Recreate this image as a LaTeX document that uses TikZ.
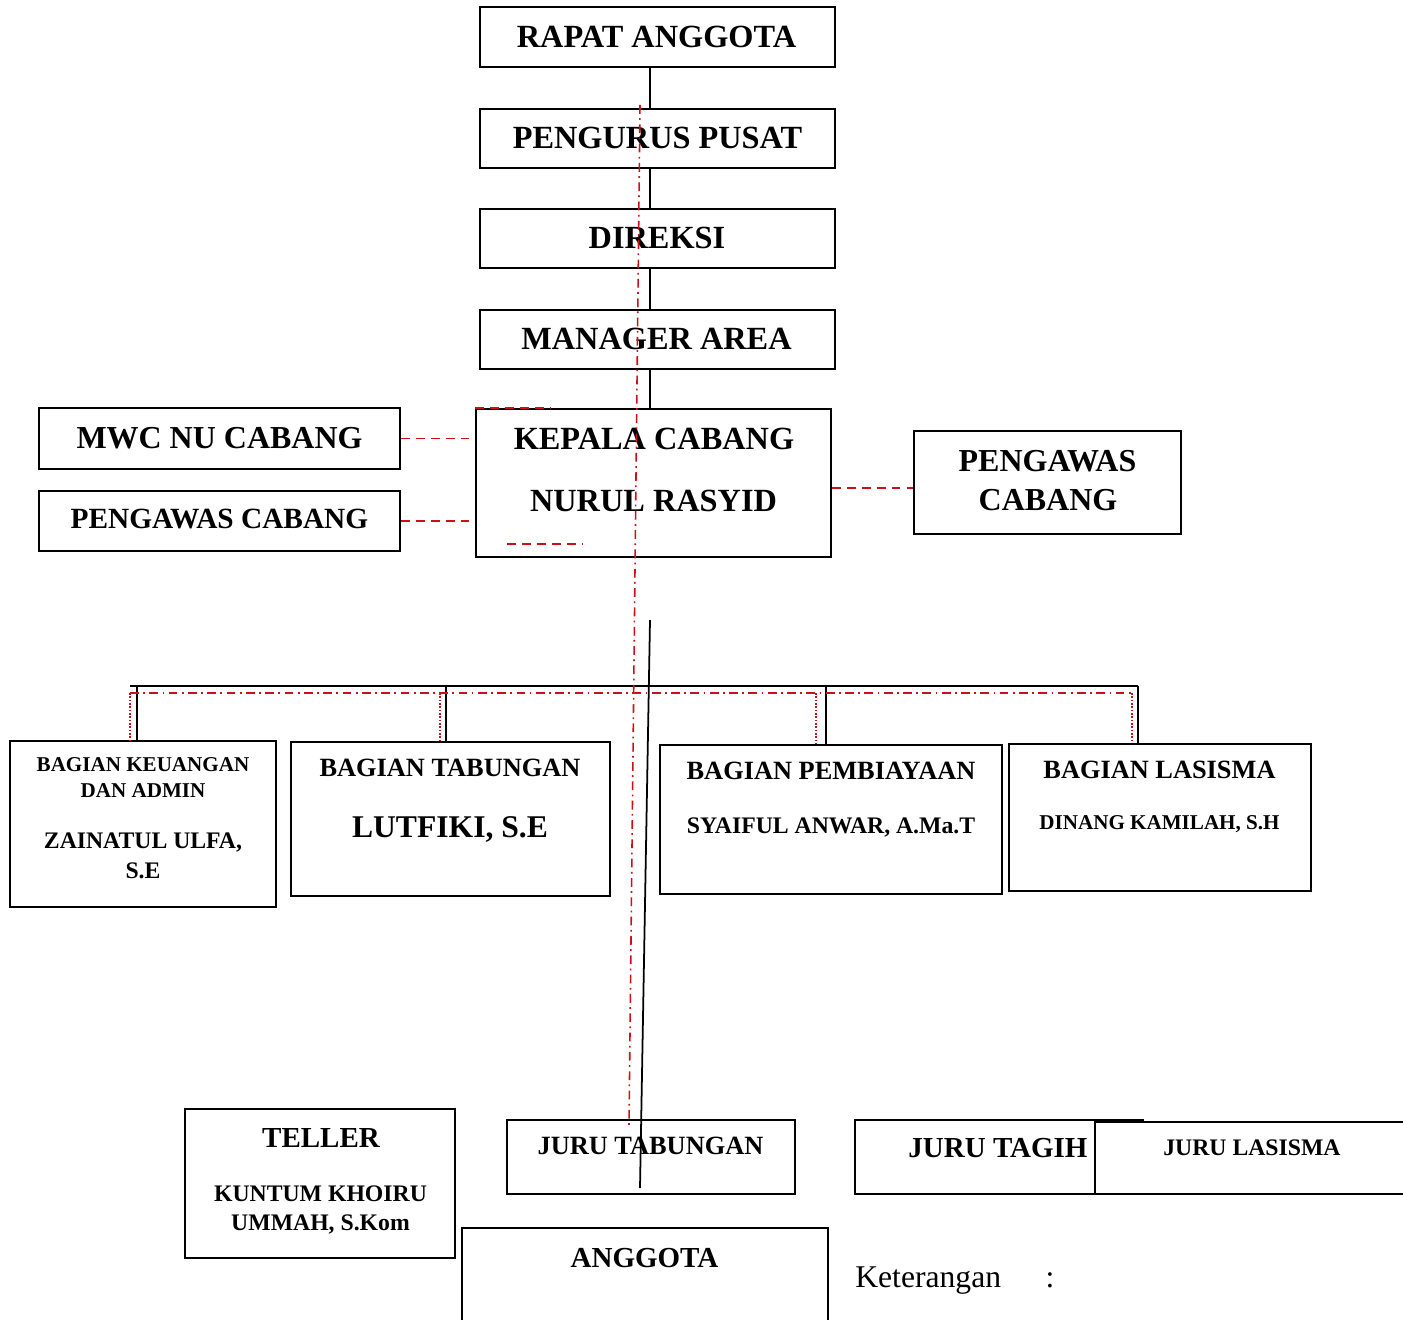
\documentclass[tikz,border=0pt]{standalone}
\usepackage{fontspec}
\setmainfont{Liberation Serif}
\definecolor{merah}{RGB}{204,16,24}

\begin{document}
\begin{tikzpicture}[x=0.02cm,y=-0.02cm]
\tikzset{kotak/.style={draw, line width=1.1pt, inner sep=0pt},
teks/.style={anchor=base, inner sep=0pt, font=\bfseries\fontsize{#1}{#1}\selectfont},
garis/.style={line width=1pt},
putus/.style={draw=merah, line width=0.9pt, dash pattern=on 5pt off 3.5pt},
titikgaris/.style={draw=merah, line width=0.9pt, dash pattern=on 5pt off 2.5pt on 1pt off 2.5pt},
titik/.style={draw=merah, line width=0.9pt, densely dotted}}
\useasboundingbox (0,0) rectangle (1403,1319);
\clip (0,0) rectangle (1403,1319);
\node[kotak, minimum width=7.1cm, minimum height=1.2cm] (rapat) at (657.5,37) {};
\node[teks=18.4] (rapatT) at (656.5,47.5) {RAPAT ANGGOTA};
\node[kotak, minimum width=7.1cm, minimum height=1.18cm] (pengurus) at (657.5,138.5) {};
\node[teks=18.4] (pengurusT) at (657.5,148.5) {PENGURUS PUSAT};
\node[kotak, minimum width=7.1cm, minimum height=1.18cm] (direksi) at (657.5,238.5) {};
\node[teks=18.4] (direksiT) at (657,248.5) {DIREKSI};
\node[kotak, minimum width=7.1cm, minimum height=1.18cm] (manager) at (657.5,339.5) {};
\node[teks=18.4] (managerT) at (656.5,349.5) {MANAGER AREA};
\node[kotak, minimum width=7.1cm, minimum height=2.96cm] (kc) at (653.5,483) {};
\node[teks=18.4] (kcT1) at (654,449.5) {KEPALA CABANG};
\node[teks=18.4] (kcT2) at (653.5,511.5) {NURUL RASYID};
\node[kotak, minimum width=7.22cm, minimum height=1.22cm] (mwc) at (219.5,438.5) {};
\node[teks=18.2] (mwcT) at (219.5,448.5) {MWC NU CABANG};
\node[kotak, minimum width=7.22cm, minimum height=1.2cm] (pwl) at (219.5,521) {};
\node[teks=16.7] (pwlT) at (219.5,528.6) {PENGAWAS CABANG};
\node[kotak, minimum width=5.34cm, minimum height=2.06cm] (pwr) at (1047.5,482.5) {};
\node[teks=18.2] (pwrT1) at (1047.5,471.5) {PENGAWAS};
\node[teks=18.2] (pwrT2) at (1048,510.5) {CABANG};
\node[kotak, minimum width=5.32cm, minimum height=3.32cm] (keu) at (143,824) {};
\node[teks=12] (keuT1) at (143,771) {BAGIAN KEUANGAN};
\node[teks=12] (keuT2) at (143,797) {DAN ADMIN};
\node[teks=13.5] (keuT3) at (143,848) {ZAINATUL ULFA,};
\node[teks=13.5] (keuT4) at (143,878) {S.E};
\node[kotak, minimum width=6.38cm, minimum height=3.08cm] (tab) at (450.5,819) {};
\node[teks=15] (tabT1) at (450,776.8) {BAGIAN TABUNGAN};
\node[teks=18] (tabT2) at (450,837.5) {LUTFIKI, S.E};
\node[kotak, minimum width=6.84cm, minimum height=2.98cm] (pem) at (831,819.5) {};
\node[teks=15] (pemT1) at (831,779.8) {BAGIAN PEMBIAYAAN};
\node[teks=13.5] (pemT2) at (831,833) {SYAIFUL ANWAR, A.Ma.T};
\node[kotak, minimum width=6.04cm, minimum height=2.94cm] (las) at (1160,817.5) {};
\node[teks=15] (lasT1) at (1159.5,778.8) {BAGIAN LASISMA};
\node[teks=12] (lasT2) at (1159.5,829) {DINANG KAMILAH, S.H};
\node[kotak, minimum width=5.4cm, minimum height=2.98cm] (tel) at (320,1183.5) {};
\node[teks=16.5] (telT1) at (321,1147.6) {TELLER};
\node[teks=13.5] (telT2) at (320.5,1201) {KUNTUM KHOIRU};
\node[teks=13.5] (telT3) at (320.5,1230) {UMMAH, S.Kom};
\node[kotak, minimum width=5.76cm, minimum height=1.48cm] (jtab) at (651,1157) {};
\node[teks=15] (jtabT) at (650.5,1154.8) {JURU TABUNGAN};
\node[kotak, minimum width=5.76cm, minimum height=1.48cm] (jtag) at (999,1157) {};
\node[teks=16.5] (jtagT) at (998,1157.6) {JURU TAGIH};
\node[kotak, fill=white, minimum width=6.3cm, minimum height=1.44cm] (jlas) at (1252.5,1158) {};
\node[teks=13.5] (jlasT) at (1252,1155) {JURU LASISMA};
\node[kotak, minimum width=7.32cm, minimum height=2.04cm] (ang) at (645,1279) {};
\node[teks=16.5] (angT) at (644.5,1267.6) {ANGGOTA};
\node[anchor=base west, inner sep=0pt, font=\fontsize{18}{20}\selectfont] (ket) at (855,1287.5) {Keterangan};
\node[anchor=base, inner sep=0pt, font=\fontsize{18}{20}\selectfont] (ketT) at (1050,1287.5) {:};
\draw[garis] ([xshift=-0.15cm]rapat.south) -- ([xshift=-0.15cm]pengurus.north);
\draw[garis] ([xshift=-0.15cm]pengurus.south) -- ([xshift=-0.15cm]direksi.north);
\draw[garis] ([xshift=-0.15cm]direksi.south) -- ([xshift=-0.15cm]manager.north);
\draw[garis] ([xshift=-0.15cm]manager.south) -- ([xshift=-0.15cm]manager.south |- kc.north);
\coordinate (b1) at (130,686);
\coordinate (b2) at (1138,686);
\coordinate (c1) at (137,686);
\coordinate (c2) at (446,686);
\coordinate (c3) at (826,686);
\draw[garis] (b1) -- (b2);
\draw[garis] (c1) -- (c1 |- keu.north);
\draw[garis] (c2) -- (c2 |- tab.north);
\draw[garis] (c3) -- (c3 |- pem.north);
\draw[garis] (b2) -- (b2 |- las.north);
\coordinate (atas) at (650,620);
\coordinate (bawah) at (640,1188);
\draw[garis] (atas) -- (bawah);
\coordinate (m1) at (130,693);
\coordinate (m2) at (440,693);
\coordinate (m3) at (816,693);
\coordinate (m4) at (1132,693);
\draw[titikgaris] (m1) -- (m4);
\draw[titik] (m1) -- (m1 |- keu.north);
\draw[titik] (m2) -- (m2 |- tab.north);
\draw[titik] (m3) -- (m3 |- pem.north);
\draw[titik] (m4) -- (m4 |- las.north);
\coordinate (ma) at (640,105);
\coordinate (mb) at (629,1125);
\draw[titikgaris] (ma) -- (mb);
\draw[putus] (mwc.east) -- (mwc.east -| kc.west);
\draw[putus] (pwl.east) -- (pwl.east -| kc.west);
\draw[putus] ([yshift=-0.1cm]kc.east) -- ([yshift=-0.1cm]kc.east -| pwr.west);
\draw[putus] (kc.north west) -- ++(75,0);
\draw[putus] ([shift={(32,136)}]kc.north west) -- ++(75,0);
\end{tikzpicture}
\end{document}
